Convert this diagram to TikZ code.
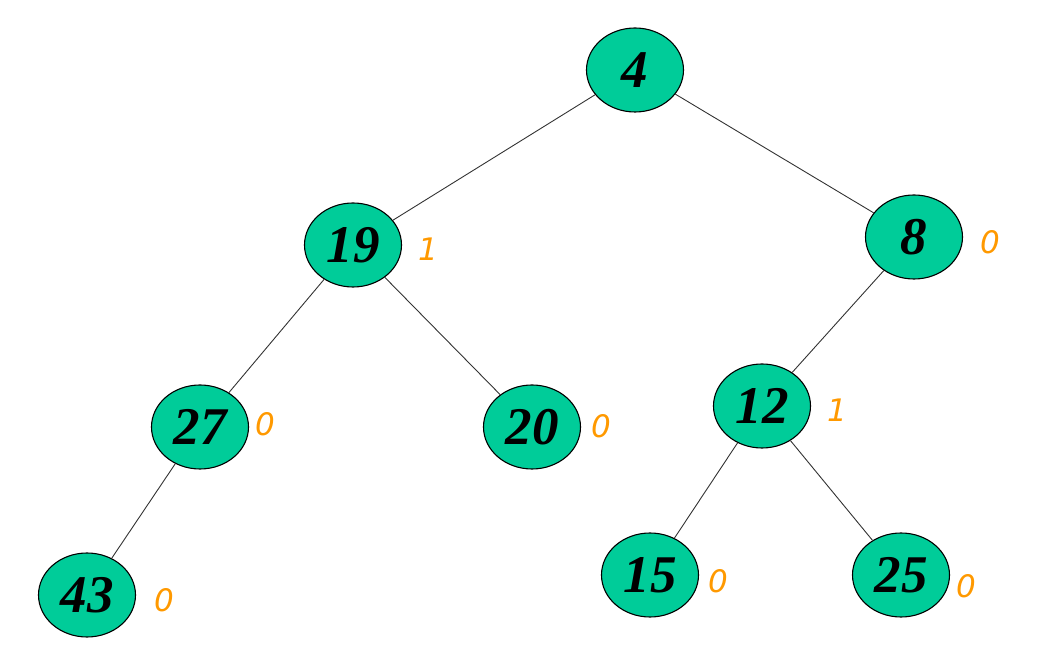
\documentclass[tikz,border=0pt]{standalone}
\usepackage{fontspec}
\setmainfont{Liberation Serif}
\newfontfamily\lblfont{DejaVu Sans}
\usetikzlibrary{shapes.geometric}
\definecolor{nodefill}{HTML}{00CC99}
\definecolor{lblorange}{HTML}{FF9900}
\begin{document}
\begin{tikzpicture}[x=1pt,y=1pt,
  tnode/.style={ellipse, draw=black, line width=1.1pt, fill=nodefill,
    minimum width=97pt, minimum height=84pt, inner sep=0pt,
    font=\fontsize{53}{53}\selectfont\bfseries\itshape},
  bal/.style={text=lblorange, font=\lblfont\fontsize{31}{31}\selectfont\itshape, inner sep=0pt},
  edge/.style={draw=black!80, line width=0.9pt}]
\useasboundingbox (0,0) rectangle (1037,664);
\node[tnode] (n4)  at (635,594) {4};
\node[tnode] (n19) at (353,419) {19};
\node[tnode] (n8)  at (914,427) {8};
\node[tnode] (n27) at (200,237) {27};
\node[tnode] (n20) at (532,237) {20};
\node[tnode] (n12) at (762,258) {12};
\node[tnode] (n43) at (87,69) {43};
\node[tnode] (n15) at (650,89) {15};
\node[tnode] (n25) at (901,89) {25};
\draw[edge] (n4) -- (n19);
\draw[edge] (n4) -- (n8);
\draw[edge] (n19) -- (n27);
\draw[edge] (n19) -- (n20);
\draw[edge] (n8) -- (n12);
\draw[edge] (n27) -- (n43);
\draw[edge] (n12) -- (n15);
\draw[edge] (n12) -- (n25);
\node[bal] (b19) at (428,415) {1};
\node[bal] (b8)  at (990,422) {0};
\node[bal] (b27) at (265,240) {0};
\node[bal] (b20) at (601,238) {0};
\node[bal] (b12) at (837,254) {1};
\node[bal] (b43) at (164,64) {0};
\node[bal] (b15) at (718,83) {0};
\node[bal] (b25) at (966,78) {0};
\end{tikzpicture}
\end{document}
